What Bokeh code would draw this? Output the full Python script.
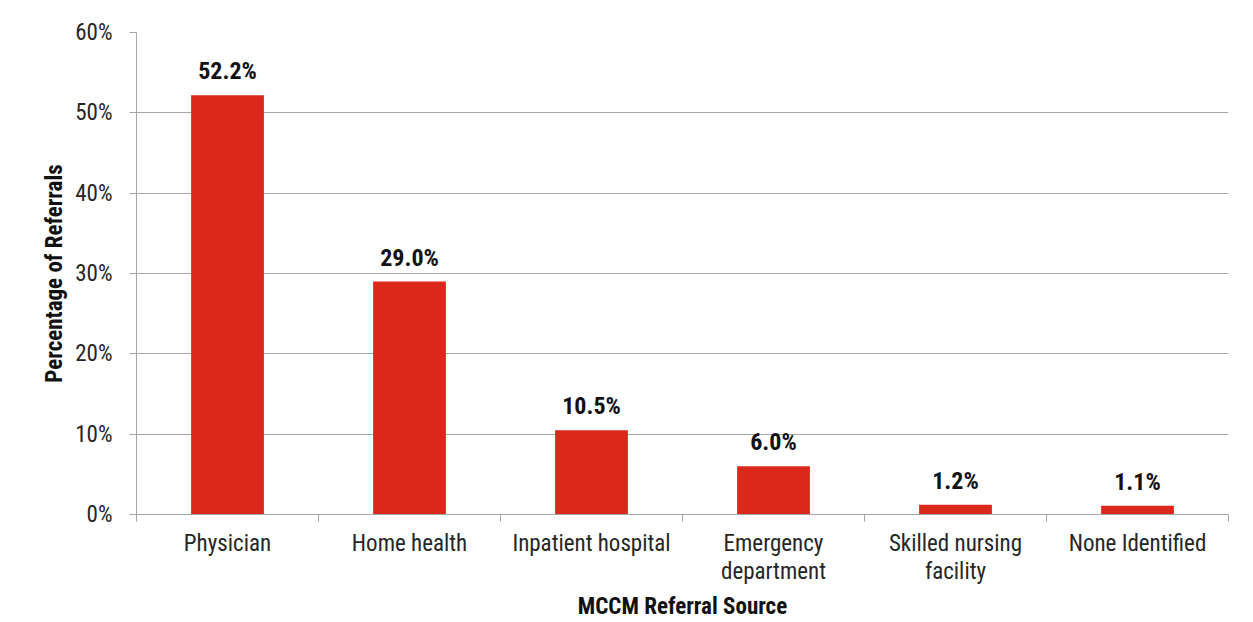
from bokeh.plotting import figure
from bokeh.models import ColumnDataSource, FixedTicker, Range1d, LabelSet
from bokeh.core.properties import value
from bokeh.embed import file_html
from bokeh.resources import INLINE

categories = ["Physician", "Home health", "Inpatient hospital", "Emergency\ndepartment",
              "Skilled nursing\nfacility", "None Identified"]
values = [52.2, 29.0, 10.5, 6.0, 1.2, 1.1]
y_ticks = [0, 10, 20, 30, 40, 50, 60]
y_tick_labels = ["0%", "10%", "20%", "30%", "40%", "50%", "60%"]

FONT = "Roboto Condensed"
GRAY = "#a6a6a6"

xs = [i + 0.5 for i in range(len(categories))]
labels = [f"{v:.1f}%" for v in values]
src = ColumnDataSource(dict(x=xs, top=values, label=labels))

p = figure(width=1245, height=622, output_backend="svg", toolbar_location=None,
           x_range=Range1d(0, len(categories)), y_range=Range1d(0, 60))
p.min_border_left = 136
p.min_border_top = 32
p.min_border_bottom = 107
p.min_border_right = 17
p.outline_line_color = None

p.vbar(x="x", top="top", width=0.4, source=src, fill_color="#da291c", line_color=None)

p.add_layout(LabelSet(x="x", y="top", text="label", source=src, text_align="center",
                      text_baseline="alphabetic", y_offset=16, text_font=value(FONT),
                      text_font_style="bold", text_font_size="24px", text_color="#111111"))

# y axis
ya = p.yaxis[0]
ya.ticker = FixedTicker(ticks=y_ticks, minor_ticks=[])
ya.major_label_overrides = dict(zip(y_ticks, y_tick_labels))
ya.axis_line_color = GRAY
ya.major_tick_line_color = GRAY
ya.major_tick_out = 7
ya.major_tick_in = 0
ya.minor_tick_line_color = None
ya.major_label_text_font = FONT
ya.major_label_text_font_size = "23px"
ya.major_label_text_color = "#262626"
ya.major_label_standoff = 17
ya.axis_label = "Percentage of Referrals"
ya.axis_label_text_font = FONT
ya.axis_label_text_font_style = "bold"
ya.axis_label_text_font_size = "23px"
ya.axis_label_text_color = "#111111"
ya.axis_label_standoff = 4

# x axis
xa = p.xaxis[0]
xa.ticker = FixedTicker(ticks=xs, minor_ticks=list(range(len(categories) + 1)))
xa.major_label_overrides = dict(zip(xs, categories))
xa.axis_line_color = GRAY
xa.major_tick_out = 0
xa.major_tick_in = 0
xa.minor_tick_line_color = GRAY
xa.minor_tick_out = 7
xa.minor_tick_in = 0
xa.major_label_text_font = FONT
xa.major_label_text_font_size = "23px"
xa.major_label_text_color = "#262626"
xa.major_label_text_line_height = 1.05
xa.major_label_standoff = 8
xa.axis_label = "MCCM Referral Source"
xa.axis_label_text_font = FONT
xa.axis_label_text_font_style = "bold"
xa.axis_label_text_font_size = "23px"
xa.axis_label_text_color = "#111111"
xa.axis_label_standoff = 5

p.xgrid.grid_line_color = None
p.ygrid.grid_line_color = GRAY
p.ygrid.ticker = FixedTicker(ticks=y_ticks)

open("out.html", "w").write(file_html(p, INLINE))
